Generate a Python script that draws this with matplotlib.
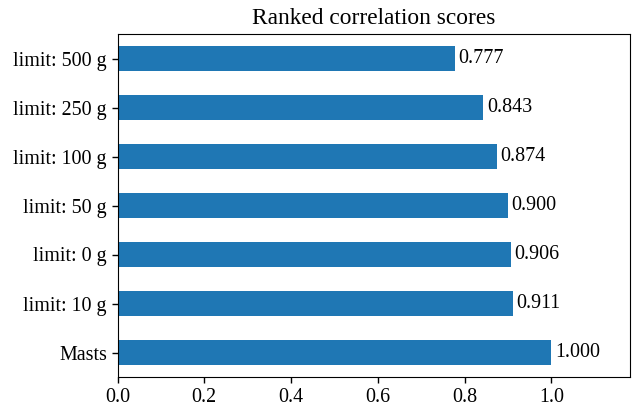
import matplotlib
matplotlib.use("Agg")
import matplotlib.pyplot as plt

labels = ["Masts", "limit: 10 g", "limit: 0 g", "limit: 50 g", "limit: 100 g", "limit: 250 g", "limit: 500 g"]
scores = [1.000, 0.911, 0.906, 0.900, 0.874, 0.843, 0.777]
xticks = [0.0, 0.2, 0.4, 0.6, 0.8, 1.0]

plt.rcParams['font.family'] = ['Liberation Serif', 'DejaVu Serif']
plt.rcParams['font.size'] = 14.4

fig = plt.figure(figsize=(6.32, 4.04), dpi=100)
ax = fig.add_axes([117.5/632, (404-377)/404, (630-117.5)/632, (377-34)/404])
ypos = list(range(len(labels)))
ax.barh(ypos, scores, height=0.5, color="#1f77b4")
for y, v in zip(ypos, scores):
    ax.text(v + 0.008, y, f"{v:.3f}", va="center", ha="left", fontsize=14.4)
ax.set_yticks(ypos)
ax.set_yticklabels(labels)
ax.set_xticks(xticks)
ax.set_xticklabels([f"{t:.1f}" for t in xticks])
ax.tick_params(length=4.2, width=1.0)
ax.set_ylim(-0.5, len(labels) - 0.5)
ax.set_xlim(0, 1.181)
ax.set_title("Ranked correlation scores", fontsize=16.8, pad=7)
fig.savefig("out.png", dpi=100)
